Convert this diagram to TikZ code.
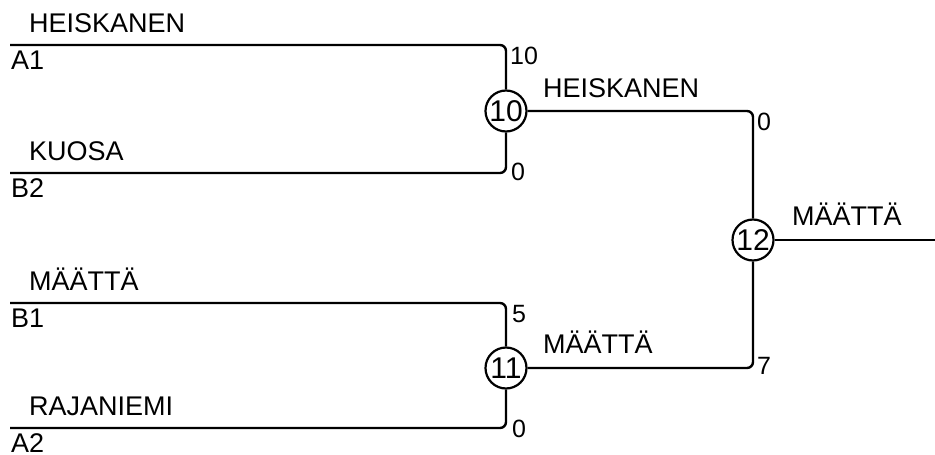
\documentclass[tikz,border=0pt]{standalone}
\usepackage{fontspec}
\setmainfont{Liberation Sans}
\usetikzlibrary{calc}

\begin{document}
\begin{tikzpicture}[x=1pt,y=-1pt,
    wire/.style={line width=2.4pt,rounded corners=6pt},
    team/.style={anchor=base west,inner sep=0pt,font=\fontsize{27}{30}\selectfont},
    score/.style={inner sep=0pt,font=\fontsize{25}{28}\selectfont},
    match/.style={circle,draw,line width=2.2pt,minimum size=41pt,inner sep=0pt,font=\fontsize{30}{30}\selectfont}]
                        \useasboundingbox (0,0) rectangle (935,455);
                        \node[match] (m10) at (506,111) {10};
                        \node[match] (m11) at (506,368) {11};
                        \node[match] (m12) at (753,240) {12};
                        \coordinate (win) at (935,240);
                        \foreach \i/\y/\nm/\sd in {1/45/HEISKANEN/A1,2/173/KUOSA/B2,3/303/MÄÄTTÄ/B1,4/428/RAJANIEMI/A2} {%
                            % entry line with team name above and seed below
                            \coordinate (in\i) at (10,\y);
                            \node[team] (team\i) at (29,\y-13) {\nm};
                            \node[team] (seed\i) at (11,\y+24) {\sd};
                        }
                        \draw[wire] (in1) -| (m10);
                        \draw[wire] (in2) -| (m10);
                        \draw[wire] (in3) -| (m11);
                        \draw[wire] (in4) -| (m11);
                        \draw[wire] (m10) -| (m12);
                        \draw[wire] (m11) -| (m12);
                        \draw[wire] (m12) -- (win);
                        \node[team] (w10) at (543,97) {HEISKANEN};
                        \node[team] (w11) at (543,353) {MÄÄTTÄ};
                        \node[team] (w12) at (792,225) {MÄÄTTÄ};
                        \node[score,anchor=north west] (s1) at (510,47) {10};
                        \node[score,anchor=west] (s2) at (511,172) {0};
                        \node[score,anchor=north west] (s3) at (512,305) {5};
                        \node[score,anchor=west] (s4) at (512,429) {0};
                        \node[score,anchor=north west] (s5) at (757,113) {0};
                        \node[score,anchor=west] (s6) at (757,366) {7};
                    \end{tikzpicture}
\end{document}
